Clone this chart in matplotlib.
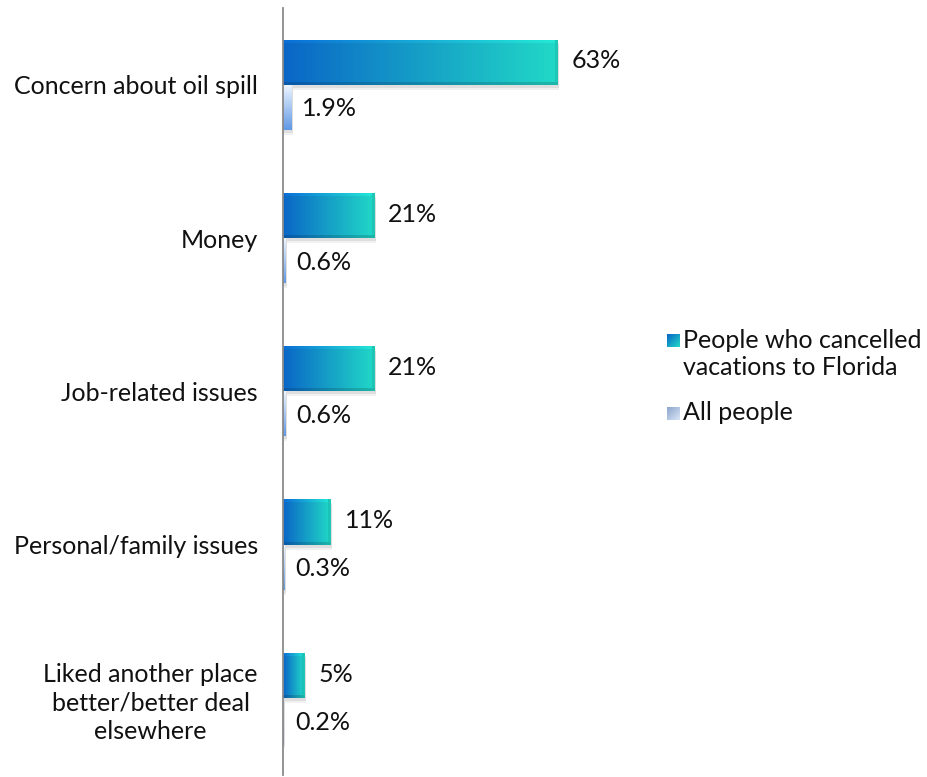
import matplotlib.pyplot as plt
from matplotlib.patches import Rectangle
import numpy as np

plt.rcParams['font.family'] = ['Lato', 'DejaVu Sans']

categories = ['Concern about oil spill', 'Money', 'Job-related issues',
              'Personal/family issues',
              'Liked another place\nbetter/better deal\nelsewhere']
cancelled = [63, 21, 21, 11, 5]
all_people = [1.9, 0.6, 0.6, 0.3, 0.2]
cancelled_labels = ['63%', '21%', '21%', '11%', '5%']
all_labels = ['1.9%', '0.6%', '0.6%', '0.3%', '0.2%']
legend_labels = ['People who cancelled\nvacations to Florida', 'All people']

W, H, DPI = 928, 777, 100
FS = 18
fig = plt.figure(figsize=(W / DPI, H / DPI), dpi=DPI)
ax = fig.add_axes([283 / W, 2 / H, 357 / W, 767 / H])
xmax = 82.0
ax.set_xlim(0, xmax)
ax.set_ylim(4.5, -0.5)
px_x = 357 / xmax          # pixels per percent
px_y = 767 / 5.0           # pixels per category slot
bh = 45 / px_y             # bar height in data units


def bevel_image(npx_w, npx_h, c_left, c_right, bevel=3):
    # horizontal colour ramp with a small bevel round the edges
    t = np.linspace(0, 1, max(npx_w, 2))[None, :, None]
    c0 = np.array(c_left)[None, None, :]
    c1 = np.array(c_right)[None, None, :]
    img = np.repeat(c0 + (c1 - c0) * t, max(npx_h, 2), axis=0)
    yy, xx = np.mgrid[0:img.shape[0], 0:img.shape[1]]
    shade = np.ones(img.shape[:2])
    shade[yy < bevel] = 1.08
    shade[yy >= img.shape[0] - bevel] = 0.85
    right = xx >= img.shape[1] - bevel
    shade[right] = np.minimum(shade[right], 0.92)
    img = np.clip(img * shade[..., None], 0, 1)
    return img


def draw_bar(x, y0, color_l, color_r, vertical=False):
    w_px = int(round(x * px_x))
    h_px = int(round(bh * px_y))
    # soft drop shadow
    for k, a in [(5, 0.08), (3, 0.12)]:
        ax.add_patch(Rectangle((0, y0 + k / px_y), x + 1.5 / px_x, bh,
                               color='#555555', alpha=a, lw=0, zorder=1))
    if vertical:
        t = np.linspace(0, 1, h_px)[:, None, None]
        c0 = np.array(color_l)[None, None, :]
        c1 = np.array(color_r)[None, None, :]
        img = np.repeat(c0 + (c1 - c0) * t, max(w_px, 2), axis=1)
    else:
        img = bevel_image(w_px, h_px, color_l, color_r)
    ax.imshow(img, extent=[0, x, y0 + bh, y0], aspect='auto',
              interpolation='bilinear', zorder=2)


blue_l = (0.04, 0.40, 0.78)
blue_r = (0.13, 0.85, 0.78)
light_t = (0.93, 0.96, 1.0)
light_b = (0.38, 0.60, 0.90)

for i in range(len(categories)):
    draw_bar(cancelled[i], i - bh, blue_l, blue_r)
    draw_bar(all_people[i], i, light_t, light_b, vertical=True)
    ax.annotate(cancelled_labels[i], (cancelled[i], i - bh / 2 - 0.01),
                xytext=(10, 0), textcoords='offset points',
                va='center', ha='left', fontsize=FS, color='#111111')
    ax.annotate(all_labels[i], (all_people[i], i + bh / 2 + 0.01),
                xytext=(8, 0), textcoords='offset points',
                va='center', ha='left', fontsize=FS, color='#111111')

ax.set_yticks(range(len(categories)))
ax.set_yticklabels(categories, fontsize=FS, color='#111111')
for lab in ax.get_yticklabels():
    lab.set_multialignment('center')
    lab.set_linespacing(1.3)
ax.tick_params(axis='y', length=0, pad=18)
ax.set_xticks([])
for s in ['top', 'right', 'bottom']:
    ax.spines[s].set_visible(False)
ax.spines['left'].set_color('#8a8a8a')
ax.spines['left'].set_linewidth(1.3)
ax.spines['left'].set_zorder(5)

# legend built by hand with gradient swatches
swatches = [(blue_l, blue_r), ((0.55, 0.65, 0.80), (0.85, 0.90, 0.97))]
sw_y = [340, 413]
txt_y = [354, 413]
for k in range(2):
    sax = fig.add_axes([667 / W, 1 - (sw_y[k] + 7) / H, 13 / W, 13 / H])
    t = np.linspace(0, 1, 20)
    g = (t[None, :] + t[:, None]) / 2
    c0 = np.array(swatches[k][0])
    c1 = np.array(swatches[k][1])
    sax.imshow(c0 + (c1 - c0) * g[..., None], aspect='auto')
    sax.axis('off')
    fig.text(683 / W, 1 - txt_y[k] / H, legend_labels[k], fontsize=FS,
             va='center', ha='left', color='#111111', linespacing=1.25)

fig.savefig('out.png', dpi=DPI)
